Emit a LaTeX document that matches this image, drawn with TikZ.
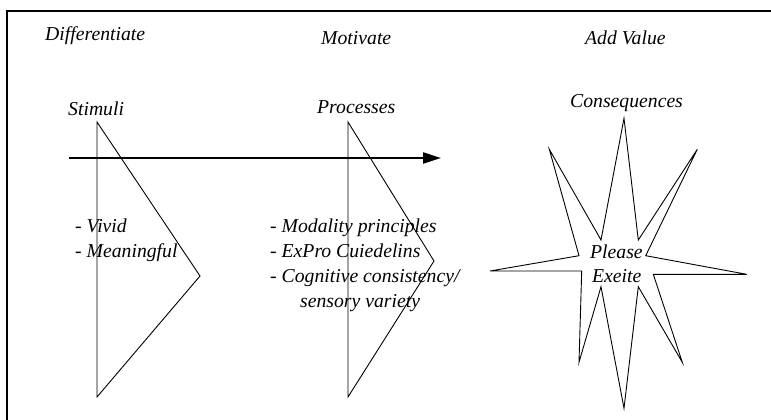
\documentclass[tikz,border=0pt]{standalone}
\usepackage{fontspec}
\setmainfont{Liberation Serif}
\usetikzlibrary{arrows.meta}
\begin{document}
\begin{tikzpicture}[x=1pt,y=-1pt,
  lbl/.style={anchor=base west,inner sep=0pt,font=\fontsize{19.7}{25}\selectfont\itshape},
  shapeline/.style={draw=black,line width=0.9pt,line join=miter},
  frameline/.style={draw=black,line width=2pt},
  flow/.style={draw=black,line width=2.2pt,-{Triangle[length=18pt,width=11pt]}}]
\useasboundingbox (0,0) rectangle (771,420);
\begin{scope}
\clip (0,0) rectangle (771,420);
\draw[frameline] (7,440) -- (7,11) -- (790,11);
\end{scope}
% triangles
\draw[shapeline] (97,122) -- (200,276) -- (97,397) -- cycle;
\draw[shapeline] (348,122) -- (434,261) -- (348,397) -- cycle;
% arrow
\coordinate (arrS) at (69,158);
\coordinate (arrE) at (441,158);
\draw[flow] (arrS) -- (arrE);
% star
\draw[shapeline] (624,118.3) -- (638.3,240) -- (697.3,149.3) -- (645.7,255.7) -- (746.7,274.3) -- (653.3,274.3) -- (682.3,362.3) -- (638.3,286.7) -- (624,408.3) -- (601,286.7) -- (579,362.3) -- (581.7,271) -- (490,271) -- (579,255.7) -- (549.3,149.3) -- (601,240) -- cycle;
% labels
\node[lbl] (diff) at (45,41) {Differentiate};
\node[lbl] (moti) at (321,45) {Motivate};
\node[lbl] (addv) at (585,45) {Add Value};
\node[lbl] (stim) at (68,115) {Stimuli};
\node[lbl] (proc) at (317,113) {Processes};
\node[lbl] (cons) at (570,107) {Consequences};
\node[lbl] (viv) at (75,232) {- Vivid};
\node[lbl] (mean) at (75,257) {- Meaningful};
\node[lbl] (moda) at (270,232) {- Modality principles};
\node[lbl] (expr) at (270,257) {- ExPro Cuiedelins};
\node[lbl] (cogn) at (270,282) {- Cognitive consistency/};
\node[lbl] (sens) at (300,307) {sensory variety};
\node[lbl] (plea) at (590,258) {Please};
\node[lbl] (exei) at (592,282) {Exeite};
\end{tikzpicture}
\end{document}
